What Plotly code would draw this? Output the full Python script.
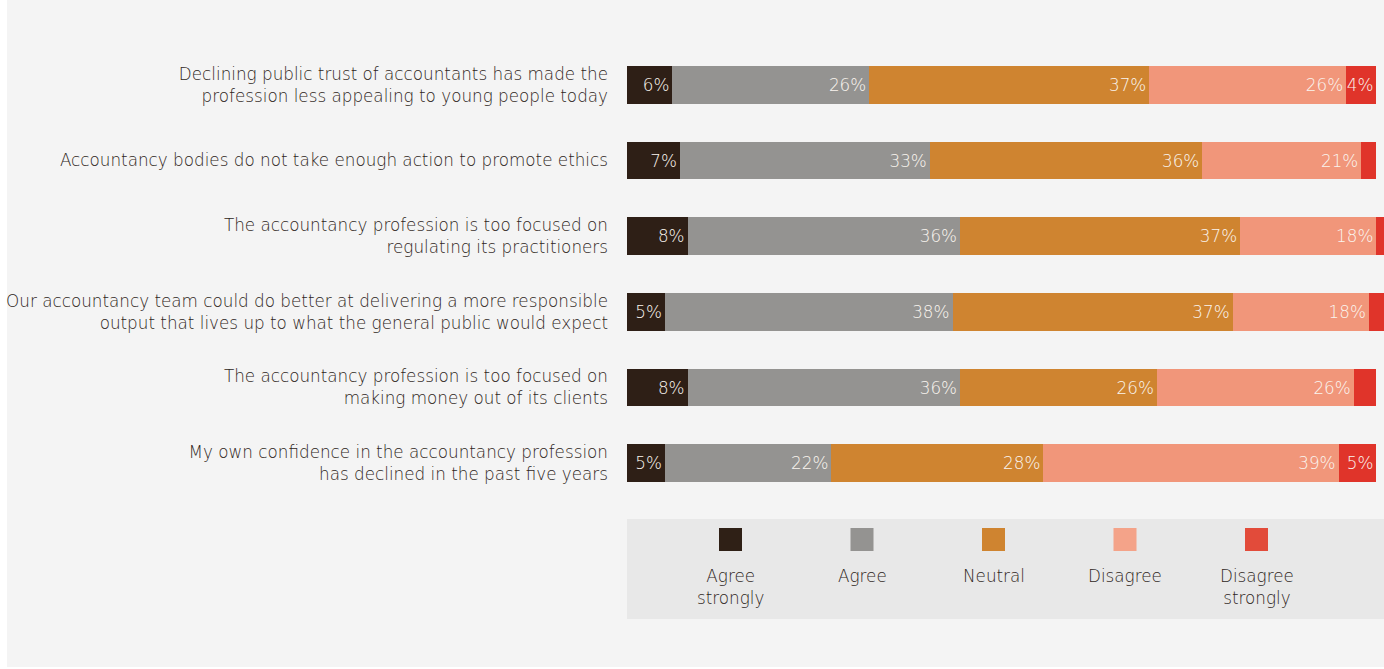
import plotly.graph_objects as go

# ---------------- data ----------------
categories = [
    "Declining public trust of accountants has made the<br>profession less appealing to young people today",
    "Accountancy bodies do not take enough action to promote ethics",
    "The accountancy profession is too focused on<br>regulating its practitioners",
    "Our accountancy team could do better at delivering a more responsible<br>output that lives up to what the general public would expect",
    "The accountancy profession is too focused on<br>making money out of its clients",
    "My own confidence in the accountancy profession<br>has declined in the past five years",
]
series_names = ["Agree strongly", "Agree", "Neutral", "Disagree", "Disagree strongly"]
legend_labels = ["Agree<br>strongly", "Agree", "Neutral", "Disagree", "Disagree<br>strongly"]
agree_strongly = [6, 7, 8, 5, 8, 5]
agree = [26, 33, 36, 38, 36, 22]
neutral = [37, 36, 37, 37, 26, 28]
disagree = [26, 21, 18, 18, 26, 39]
disagree_strongly = [4, 2, 1, 2, 3, 5]

series_values = [agree_strongly, agree, neutral, disagree, disagree_strongly]
bar_colors = ["#2e1f16", "#949391", "#cf8430", "#f1967a", "#e0342a"]
legend_colors = ["#2f2016", "#949391", "#cf8430", "#f4a389", "#e24b3a"]

# ---------------- layout constants ----------------
W, H = 1384, 669
ML, MR, MT, MB = 627, 0, 47, 168
PW, PH = W - ML - MR, H - MT - MB
FONT = "DejaVu Sans"
FS = 16.8
TEXT_COLOR = "#2f2622"


def px_x(px):
    return (px - ML) / PW


def px_y(py):
    return (H - MB - py) / PH


fig = go.Figure()
for name, vals, col in zip(series_names, series_values, bar_colors):
    fig.add_trace(go.Bar(
        y=categories, x=vals, orientation="h", name=name,
        marker=dict(color=col, line=dict(width=0)),
        text=[f"{v}%" if v >= 4 else "" for v in vals],
        textposition="inside", insidetextanchor="end", textangle=0,
        textfont=dict(family=FONT, size=FS, color="#faf5ef", weight=200),
        showlegend=False, hoverinfo="skip",
    ))

shapes = []
annotations = []

# panel background
shapes.append(dict(type="rect", xref="paper", yref="paper",
                   x0=px_x(7), x1=px_x(1384), y0=px_y(667), y1=px_y(0),
                   fillcolor="#f4f4f4", line=dict(width=0), layer="below"))

# legend box
shapes.append(dict(type="rect", xref="paper", yref="paper",
                   x0=px_x(627), x1=px_x(1384), y0=px_y(619), y1=px_y(519),
                   fillcolor="#e8e8e8", line=dict(width=0), layer="below"))
for k, (lab, col) in enumerate(zip(legend_labels, legend_colors)):
    cx = 730.5 + k * 131.5
    shapes.append(dict(type="rect", xref="paper", yref="paper",
                       x0=px_x(cx - 11.5), x1=px_x(cx + 11.5),
                       y0=px_y(551), y1=px_y(528),
                       fillcolor=col, line=dict(width=0)))
    annotations.append(dict(
        text=lab, xref="paper", yref="paper", x=px_x(cx), y=px_y(564),
        xanchor="center", yanchor="top", align="center", showarrow=False,
        font=dict(family=FONT, size=FS, color=TEXT_COLOR, weight=200),
    ))

fig.update_layout(
    width=W, height=H,
    margin=dict(l=ML, r=MR, t=MT, b=MB, pad=0),
    barmode="stack", bargap=0.5,
    paper_bgcolor="white", plot_bgcolor="rgba(0,0,0,0)",
    uniformtext=dict(minsize=FS, mode="show"),
    xaxis=dict(range=[0, 100], showgrid=False, zeroline=False, showticklabels=False,
               showline=False, fixedrange=True),
    yaxis=dict(autorange="reversed", categoryorder="array", categoryarray=categories,
               showgrid=False, zeroline=False, showline=False, fixedrange=True,
               ticks="", ticklabelstandoff=18,
               tickfont=dict(family=FONT, size=FS, color=TEXT_COLOR, weight=200)),
    shapes=shapes, annotations=annotations,
    font=dict(family=FONT, color=TEXT_COLOR),
)

fig.write_html("out.html")
